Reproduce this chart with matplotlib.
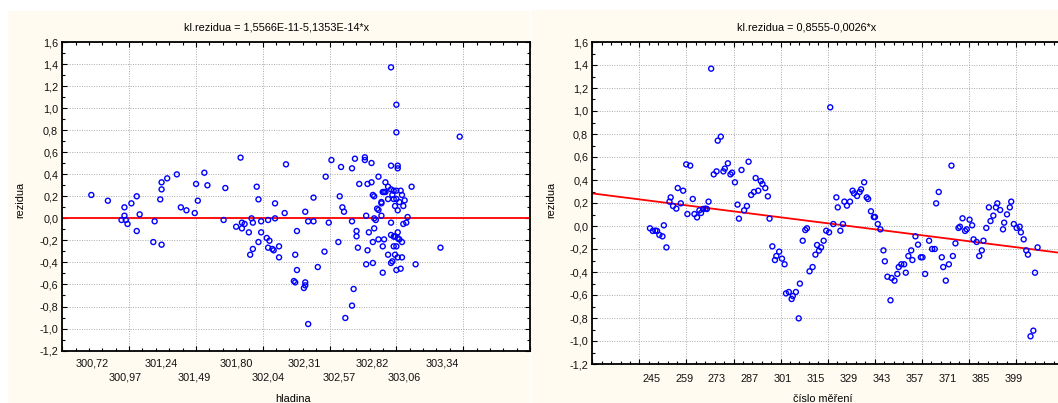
import matplotlib
matplotlib.use('Agg')
import matplotlib.pyplot as plt
from matplotlib.ticker import MultipleLocator, FuncFormatter
from matplotlib.patches import Rectangle

plt.rcParams['font.family'] = ['Liberation Sans', 'DejaVu Sans']

# ---------------- data ----------------
title_left = 'kl.rezidua = 1,5566E-11-5,1353E-14*x'
title_right = 'kl.rezidua = 0,8555-0,0026*x'
fit_left = (1.5566e-11, -5.1353e-14)
fit_right = (0.8555, -0.0026)

hladina = [
    300.717, 300.841, 300.943, 300.965, 300.965, 300.975, 300.988, 301.017, 301.057, 301.057,
    301.079, 301.181, 301.191, 301.233, 301.243, 301.243, 301.243, 301.285, 301.357, 301.387,
    301.429, 301.491, 301.501, 301.514, 301.563, 301.586, 301.707, 301.720, 301.801, 301.834,
    301.844, 301.844, 301.864, 301.896, 301.906, 301.916, 301.926, 301.926, 301.955, 301.968,
    301.968, 301.988, 301.988, 302.030, 302.040, 302.050, 302.040, 302.072, 302.082, 302.092,
    302.092, 302.122, 302.122, 302.164, 302.174,
    302.243, 302.233, 302.243, 302.256, 302.256, 302.308, 302.318, 302.318, 302.318, 302.340,
    302.340, 302.380, 302.380, 302.412, 302.462, 302.471, 302.494, 302.514, 302.566, 302.576,
    302.586, 302.596, 302.608, 302.618, 302.668, 302.668, 302.668, 302.680, 302.690, 302.702,
    302.702, 302.712, 302.722, 302.764, 302.764, 302.774, 302.774, 302.784, 302.784, 302.794,
    302.814, 302.814, 302.824, 302.824, 302.824, 302.834, 302.834, 302.834, 302.846, 302.856,
    302.866, 302.866, 302.866, 302.888, 302.888, 302.888, 302.898, 302.898, 302.898, 302.908,
    302.908, 302.918, 302.918, 302.938, 302.938, 302.938, 302.960, 302.960, 302.960, 302.960,
    302.960, 302.960, 302.970, 302.970, 302.980, 302.980, 302.980, 302.980, 302.990, 302.990,
    302.990, 303.000, 303.000, 303.000, 303.000, 303.000, 303.000, 303.010, 303.010, 303.010,
    303.010, 303.010, 303.010, 303.022, 303.022, 303.032, 303.032, 303.042, 303.042, 303.042,
    303.052, 303.052, 303.062, 303.074, 303.084, 303.114, 303.144, 303.330, 303.474,
]
rezidua_hladina = [
    0.212, 0.160, -0.015, 0.100, 0.024, -0.015, -0.051, 0.136, 0.200, -0.115,
    0.036, -0.215, -0.027, 0.172, 0.327, 0.263, -0.239, 0.363, 0.399, 0.100,
    0.073, 0.048, 0.312, 0.160, 0.414, 0.300, -0.015, 0.275, -0.076, 0.551,
    -0.039, -0.091, -0.051, -0.127, -0.330, 0.000, -0.039, -0.278, 0.287, 0.172,
    -0.215, -0.027, -0.127, -0.178, -0.015, -0.203, -0.266, -0.278, -0.290, 0.136,
    0.000, -0.254, -0.354, 0.048, 0.490,
    -0.330, -0.569, -0.581, -0.469, -0.115, -0.632, -0.581, -0.608, 0.060, -0.027,
    -0.959, -0.027, 0.188, -0.442, -0.302, 0.378, -0.039, 0.529, -0.215, 0.200,
    0.466, 0.100, 0.060, -0.904, -0.027, 0.454, -0.792, -0.641, 0.541, -0.115,
    -0.163, -0.266, 0.312, 0.554, 0.529, 0.024, -0.417, 0.312, -0.290, -0.127,
    0.502, 0.327, 0.212, -0.215, -0.405, 0.200, 0.000, -0.091, -0.015, 0.088,
    0.378, 0.076, -0.191, 0.148, 0.136, 0.024, 0.239, -0.254, -0.493, 0.239,
    -0.191, 0.239, 0.327, 0.287, 0.175, -0.330, 1.370, 0.478, 0.263, -0.039,
    -0.151, -0.405, 0.212, -0.390, 0.251, 0.175, -0.166, -0.254, 0.112, -0.163,
    -0.330, 1.031, 0.780, 0.251, 0.175, -0.254, -0.469, 0.478, 0.454, 0.073,
    -0.127, -0.178, -0.354, 0.148, -0.191, 0.251, -0.457, 0.212, -0.215, -0.354,
    0.112, -0.051, 0.163, -0.039, 0.012, 0.287, -0.417, -0.266, 0.741,
]

cislo_mereni = [
    244.5, 245.7, 246.8, 247.5, 248.5, 249.8, 250.4, 251.5, 252.8, 253.3,
    254.3, 255.7, 256.3, 257.6, 258.6, 259.9, 260.4, 261.6, 262.7, 263.4,
    264.5, 265.5, 266.2, 267.1, 268.1, 268.7, 269.4, 270.5, 271.6, 272.8,
    273.3, 274.6, 275.7, 276.3, 277.6, 278.7, 279.4, 280.6, 281.7, 282.3,
    283.4, 284.5, 285.7, 286.4, 287.5, 288.7, 289.4, 290.5, 291.6, 292.3,
    293.5, 294.6, 295.3, 296.5, 297.6, 298.2, 299.4, 300.6, 301.7, 302.3,
    303.5, 304.7, 305.2, 306.5, 307.7, 308.2, 309.4, 310.5, 311.2, 312.3,
    313.6, 314.8, 315.5, 316.3,
    317.2, 318.3, 319.4, 320.6, 321.1, 322.4, 323.7, 324.3, 325.4, 326.5,
    327.1, 328.2, 329.5, 330.6, 331.2, 332.5, 333.6, 334.2, 335.5, 336.6,
    337.2, 338.4, 339.6, 340.1, 341.3, 342.4, 343.7, 344.3, 345.4, 346.7,
    347.2, 348.4, 349.6, 350.2, 351.3, 352.5, 353.2, 354.3, 355.5, 356.0,
    357.3, 358.4, 359.6, 360.3, 361.4, 363.1, 364.4, 365.5, 366.1, 367.2,
    368.5, 369.1, 370.2, 371.5, 372.6, 373.2, 374.3, 375.6, 376.2, 377.3,
    378.4, 379.1, 380.3, 381.4, 382.0, 383.3, 384.4, 385.5, 386.2, 387.4,
    388.5, 389.2, 390.4, 391.5, 392.1, 393.3, 394.5, 395.0, 396.2, 397.4,
    398.0, 399.1, 400.3, 401.6, 402.1, 403.3, 404.4, 405.1, 406.2, 407.4,
    408.1, 409.2,
]
rezidua_cislo = [
    -0.020, -0.043, -0.040, -0.043, -0.078, -0.090, 0.006, -0.186, 0.212, 0.249,
    0.174, 0.151, 0.330, 0.197, 0.307, 0.536, 0.104, 0.525, 0.235, 0.104,
    0.075, 0.136, 0.113, 0.148, 0.151, 0.148, 0.212, 1.368, 0.449, 0.475,
    0.742, 0.777, 0.475, 0.499, 0.545, 0.449, 0.464, 0.380, 0.186, 0.064,
    0.487, 0.136, 0.174, 0.559, 0.270, 0.296, 0.417, 0.307, 0.391, 0.365,
    0.330, 0.258, 0.064, -0.177, -0.296, -0.261, -0.223, -0.284, -0.333, -0.586,
    -0.574, -0.635, -0.609, -0.574, -0.803, -0.501, -0.128, -0.035, -0.020, -0.394,
    -0.357, -0.249, -0.165, -0.214,
    -0.186, -0.128, -0.041, -0.055, 1.032, 0.017, 0.249, 0.162, -0.041, 0.017,
    0.212, 0.177, 0.212, 0.307, 0.284, 0.261, 0.296, 0.319, 0.380, 0.249,
    0.235, 0.128, 0.078, 0.078, 0.017, -0.029, -0.212, -0.307, -0.441, -0.646,
    -0.452, -0.475, -0.417, -0.357, -0.333, -0.333, -0.406, -0.261, -0.212, -0.296,
    -0.090, -0.162, -0.272, -0.272, -0.417, -0.128, -0.200, -0.200, 0.197, 0.296,
    -0.272, -0.357, -0.475, -0.333, 0.525, -0.261, -0.151, -0.017, -0.006, 0.067,
    -0.043, -0.029, 0.055, 0.006, -0.116, -0.139, -0.261, -0.212, -0.128, -0.017,
    0.162, 0.043, 0.090, 0.162, 0.197, 0.139, -0.029, 0.029, 0.101, 0.162,
    0.212, 0.017, -0.017, -0.006, -0.055, -0.116, -0.212, -0.249, -0.959, -0.910,
    -0.406, -0.186,
]

xlabels_left_row1 = [300.72, 301.24, 301.80, 302.31, 302.82, 303.34]
xlabels_left_row2 = [300.97, 301.49, 302.04, 302.57, 303.06]
xlabels_right = [245, 259, 273, 287, 301, 315, 329, 343, 357, 371, 385, 399]

# ---------------- figure ----------------
W, H = 1058, 403
fig = plt.figure(figsize=(W / 100, H / 100), dpi=100, facecolor='white')
cream = '#FFFBF0'
fig.patches.append(Rectangle((8 / W, 0), (530 - 8) / W, (H - 11) / H, transform=fig.transFigure,
                             facecolor=cream, edgecolor='none', zorder=-10))
fig.patches.append(Rectangle((531 / W, 0), (W - 531) / W, (H - 10) / H, transform=fig.transFigure,
                             facecolor=cream, edgecolor='none', zorder=-10))

axL = fig.add_axes([62.3 / W, (H - 350.6) / H, (530 - 62.3) / W, (350.6 - 42) / H])
axR = fig.add_axes([592.3 / W, (H - 364) / H, (1063 - 592.3) / W, (364 - 42) / H])

FS = 7.8


def comma(v, pos=None):
    s = f"{v:.1f}".replace('.', ',')
    return '0,0' if s == '-0,0' else s


def style(ax):
    ax.set_facecolor('white')
    for s in ax.spines.values():
        s.set_linewidth(1.3)
        s.set_color('black')
    ax.tick_params(which='both', direction='in', top=True, right=True, bottom=True, left=True,
                   width=0.8, color='black', labelsize=FS, labelcolor='#111111')
    ax.tick_params(which='major', length=3.5)
    ax.tick_params(which='minor', length=2.0)
    ax.tick_params(axis='y', pad=3)
    ax.tick_params(axis='x', which='both', labelbottom=False)
    ax.grid(which='major', color='#aaaaaa', linestyle=(0, (1, 1.5)), linewidth=0.7)
    ax.set_axisbelow(True)
    ax.set_ylim(-1.2, 1.6)
    ax.yaxis.set_major_locator(MultipleLocator(0.2))
    ax.yaxis.set_minor_locator(MultipleLocator(0.1))
    ax.yaxis.set_major_formatter(FuncFormatter(comma))


def label_row(ax, vals, labels, pad):
    sec = ax.secondary_xaxis('bottom')
    sec.set_xticks(vals, labels=labels)
    sec.tick_params(length=0, pad=pad, labelsize=FS, labelcolor='#111111')
    for sp in sec.spines.values():
        sp.set_visible(False)
    return sec


# left panel
style(axL)
axL.set_xlim(300.5, 304.0)
axL.xaxis.set_major_locator(MultipleLocator(0.5))
axL.xaxis.set_minor_locator(MultipleLocator(0.1))
xl = [300.5, 304.0]
axL.plot(xl, [fit_left[0] + fit_left[1] * x for x in xl], color='#FF0000', lw=1.3, zorder=2)
axL.scatter(hladina, rezidua_hladina, s=13, facecolors='none', edgecolors='#0000FF',
            linewidths=1.0, zorder=3)
label_row(axL, xlabels_left_row1, [f"{v:.2f}".replace('.', ',') for v in xlabels_left_row1], 6)
label_row(axL, xlabels_left_row2, [f"{v:.2f}".replace('.', ',') for v in xlabels_left_row2], 16)

# right panel
style(axR)
axR.set_xlim(220, 420)
axR.xaxis.set_major_locator(MultipleLocator(20))
axR.xaxis.set_minor_locator(MultipleLocator(4))
xr = [220, 420]
axR.plot(xr, [fit_right[0] + fit_right[1] * x for x in xr], color='#FF0000', lw=1.3, zorder=2)
axR.scatter(cislo_mereni, rezidua_cislo, s=13, facecolors='none', edgecolors='#0000FF',
            linewidths=1.0, zorder=3)
label_row(axR, xlabels_right, [str(v) for v in xlabels_right], 7)

# texts
fig.text(277 / W, (H - 28) / H, title_left, ha='center', va='center', fontsize=FS)
fig.text(806.5 / W, (H - 28) / H, title_right, ha='center', va='center', fontsize=FS)
fig.text(20 / W, (H - 200) / H, 'rezidua', rotation=90, ha='center', va='center', fontsize=FS)
fig.text(551 / W, (H - 200) / H, 'rezidua', rotation=90, ha='center', va='center', fontsize=FS)
fig.text(293 / W, (H - 398.5) / H, 'hladina', ha='center', va='center', fontsize=FS)
fig.text(823 / W, (H - 398.5) / H, 'číslo měření', ha='center', va='center', fontsize=FS)

fig.savefig('out.png', dpi=100, facecolor='white')
